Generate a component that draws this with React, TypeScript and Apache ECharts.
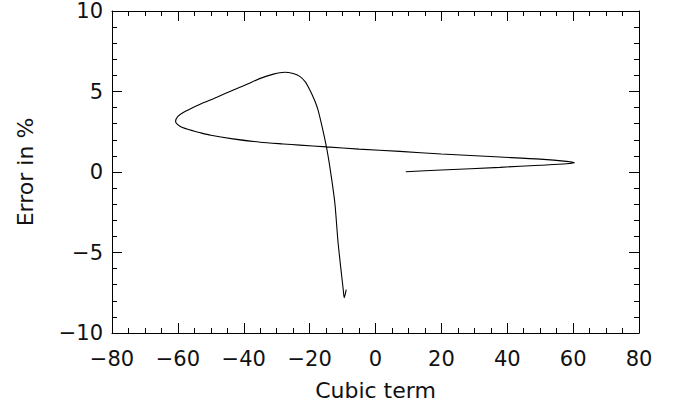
import React, { useEffect, useRef } from "react";
import * as echarts from "echarts";

const cubicTerm: number[] = [
  9.2, 20, 37.8, 50, 58, 60.4, 58, 50, 37.8, 20, 7.4, -5, -14.9, -23, -28, -35, -43.3, -50,
  -53.4, -57, -59.5, -60.7, -60, -58.5, -56, -53.4, -48, -43.3, -39, -35.2, -31, -27.6, -25,
  -23, -21.3, -20, -18.6, -17.5, -16.2, -14.9, -14.0, -13.2, -12.3, -11.4, -10.3, -9.8, -9.5,
  -9.2, -8.9,
];
const errorPct: number[] = [
  0.02, 0.12, 0.29, 0.42, 0.51, 0.57, 0.66, 0.8, 0.93, 1.12, 1.28, 1.42, 1.56, 1.67, 1.74,
  1.85, 2.06, 2.28, 2.45, 2.65, 2.86, 3.15, 3.45, 3.68, 3.95, 4.2, 4.66, 5.08, 5.45, 5.8,
  6.08, 6.2, 6.12, 5.94, 5.6, 5.12, 4.5, 3.89, 2.8, 1.56, 0.5, -0.6, -2.0, -4.3, -6.4, -7.3,
  -7.8, -7.6, -7.3,
];
const xTicks = { min: -80, max: 80, interval: 20 };
const yTicks = { min: -10, max: 10, interval: 5 };
const xTitle = "Cubic term";
const yTitle = "Error in %";

const FONT = "DejaVu Sans";
const minus = (v: number) => String(v).replace("-", "\u2212");

export default function App() {
  const ref = useRef<HTMLDivElement>(null);
  useEffect(() => {
    if (!ref.current) return;
    const chart = echarts.init(ref.current, undefined, { renderer: "svg" });
    const axisLine = { show: true, onZero: false, lineStyle: { color: "#000", width: 1 } };
    const tickStyle = (len: number) => ({ show: true, inside: true, length: len, lineStyle: { color: "#000", width: 1 } });
    const common = {
      splitLine: { show: false },
      axisLine,
      axisTick: tickStyle(10),
    };
    const data = cubicTerm.map((x, i) => [x, errorPct[i]]);
    chart.setOption({
      animation: false,
      grid: { left: 112, right: 38, top: 11, bottom: 71 },
      xAxis: [
        {
          type: "value",
          ...xTicks,
          ...common,
          minorTick: { show: true, splitNumber: 4, length: 5, lineStyle: { color: "#000" } },
          axisLabel: { fontFamily: FONT, fontSize: 21, color: "#111", margin: 15, formatter: minus },
          name: xTitle,
          nameLocation: "middle",
          nameGap: 46,
          nameTextStyle: { fontFamily: FONT, fontSize: 22, color: "#111" },
        },
        {
          type: "value",
          position: "top",
          ...xTicks,
          ...common,
          minorTick: { show: true, splitNumber: 4, length: 5, lineStyle: { color: "#000" } },
          axisLabel: { show: false },
        },
      ],
      yAxis: [
        {
          type: "value",
          ...yTicks,
          ...common,
          minorTick: { show: true, splitNumber: 5, length: 5, lineStyle: { color: "#000" } },
          axisLabel: { fontFamily: FONT, fontSize: 21, color: "#111", margin: 9, formatter: minus },
          name: yTitle,
          nameLocation: "middle",
          nameGap: 76,
          nameTextStyle: { fontFamily: FONT, fontSize: 22, color: "#111" },
        },
        {
          type: "value",
          position: "right",
          ...yTicks,
          ...common,
          minorTick: { show: true, splitNumber: 5, length: 5, lineStyle: { color: "#000" } },
          axisLabel: { show: false },
        },
      ],
      series: [
        {
          type: "line",
          data,
          showSymbol: false,
          smooth: 0.25,
          lineStyle: { color: "#000", width: 1.1 },
          xAxisIndex: 0,
          yAxisIndex: 0,
        },
      ],
    });
    return () => chart.dispose();
  }, []);
  return <div ref={ref} style={{ position: "fixed", left: 0, top: 0, width: 677, height: 406, background: "#fff" }} />;
}
